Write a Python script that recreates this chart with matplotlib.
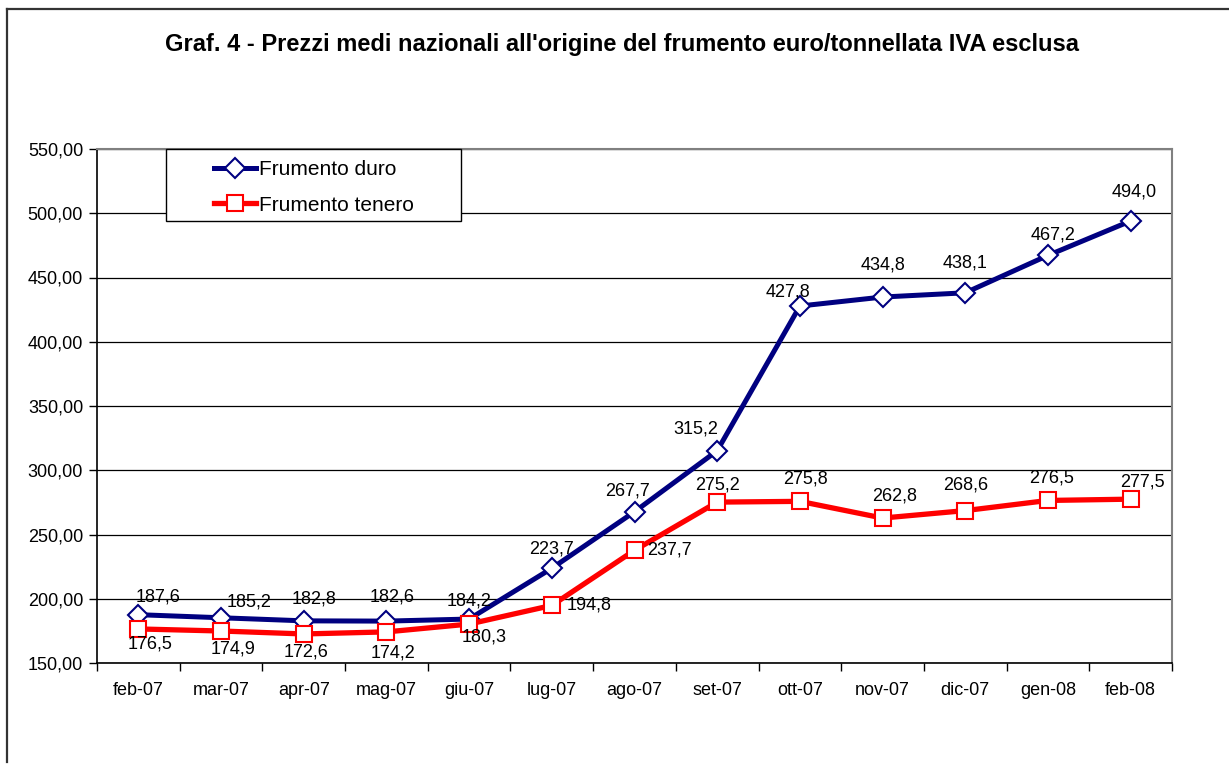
import numpy as np
import matplotlib
matplotlib.use("Agg")
import matplotlib.pyplot as plt
from matplotlib.lines import Line2D
from matplotlib.patches import Rectangle
from matplotlib.ticker import FuncFormatter, FixedLocator

plt.rcParams['font.family'] = ['Liberation Sans', 'DejaVu Sans']

mesi = ['feb-07', 'mar-07', 'apr-07', 'mag-07', 'giu-07', 'lug-07', 'ago-07',
        'set-07', 'ott-07', 'nov-07', 'dic-07', 'gen-08', 'feb-08']
duro = [187.6, 185.2, 182.8, 182.6, 184.2, 223.7, 267.7,
        315.2, 427.8, 434.8, 438.1, 467.2, 494.0]
tenero = [176.5, 174.9, 172.6, 174.2, 180.3, 194.8, 237.7,
          275.2, 275.8, 262.8, 268.6, 276.5, 277.5]

# label offsets in pixels (dx, dy up)
off_duro = [(20, 18), (28, 16), (10, 22), (6, 24), (0, 18), (0, 19), (-7, 21),
            (-21, 22), (-12, 14), (0, 32), (0, 30), (5, 20), (4, 29)]
off_tenero = [(12, -15), (12, -18), (2, -18), (7, -21), (15, -13), (37, 0), (35, 0),
              (0, 17), (6, 22), (12, 22), (0, 26), (4, 22), (12, 17)]

W, H = 1229, 765
fig = plt.figure(figsize=(W / 100, H / 100), dpi=100)
ax = fig.add_axes([97 / W, (H - 663) / H, 1075 / W, 514 / H])

x = np.arange(len(mesi))
ax.plot(x, duro, color='#000080', lw=3.6, marker='D', markersize=10,
        markerfacecolor='white', markeredgecolor='#000080', markeredgewidth=1.5,
        label='Frumento duro', zorder=3)
ax.plot(x, tenero, color='#FF0000', lw=3.8, marker='s', markersize=11,
        markerfacecolor='white', markeredgecolor='#FF0000', markeredgewidth=1.5,
        label='Frumento tenero', zorder=3)

fmt = lambda v: ('%.1f' % v).replace('.', ',')
for i in range(len(mesi)):
    ax.annotate(fmt(duro[i]), (x[i], duro[i]), xytext=off_duro[i],
                textcoords='offset pixels', ha='center', va='center', fontsize=13)
    ax.annotate(fmt(tenero[i]), (x[i], tenero[i]), xytext=off_tenero[i],
                textcoords='offset pixels', ha='center', va='center', fontsize=13)

ax.set_xlim(-0.5, len(mesi) - 0.5)
ax.set_ylim(150, 550)
ax.set_yticks(np.arange(150, 551, 50))
ax.yaxis.set_major_formatter(FuncFormatter(lambda v, p: ('%.2f' % v).replace('.', ',')))
ax.yaxis.grid(True, color='black', lw=0.9)
ax.set_axisbelow(True)

ax.xaxis.set_major_locator(FixedLocator(np.arange(-0.5, len(mesi), 1.0)))
ax.xaxis.set_major_formatter(FuncFormatter(lambda v, p: ''))
ax.xaxis.set_minor_locator(FixedLocator(x))
ax.set_xticklabels(mesi, minor=True)
ax.tick_params(axis='x', which='major', direction='out', length=6, width=1)
ax.tick_params(axis='x', which='minor', length=0, pad=14, labelsize=13)
ax.tick_params(axis='y', direction='out', length=6, width=1, labelsize=13, pad=4)

for s in ['top', 'right']:
    ax.spines[s].set_color('#808080')
    ax.spines[s].set_linewidth(1.5)
for s in ['left', 'bottom']:
    ax.spines[s].set_color('black')
    ax.spines[s].set_linewidth(1.2)

# legend box
box = Rectangle(((166 - 97) / 1075, (663 - 221) / 514), (461 - 166) / 1075, 72 / 514,
                transform=ax.transAxes, facecolor='white', edgecolor='black',
                lw=1.0, zorder=4, clip_on=False)
ax.add_patch(box)
leg = ax.legend(loc='upper left', bbox_to_anchor=((214 - 97) / 1075, (663 - 160) / 514),
                frameon=False, fontsize=15, handlelength=2.0, handletextpad=0.15,
                borderpad=0, borderaxespad=0, labelspacing=0.8)
leg.set_zorder(5)

fig.text(622 / W, 1 - 45 / H,
         "Graf. 4 - Prezzi medi nazionali all'origine del frumento euro/tonnellata IVA esclusa",
         ha='center', va='center', fontsize=17, fontweight='bold')

# outer frame
fig.add_artist(Line2D([7 / W, 1.0], [1 - 9 / H, 1 - 9 / H], color='#333333', lw=1.6))
fig.add_artist(Line2D([7 / W, 7 / W], [1 - 9 / H, 3 / H], color='#333333', lw=1.6))

fig.savefig('out.png', dpi=100)
